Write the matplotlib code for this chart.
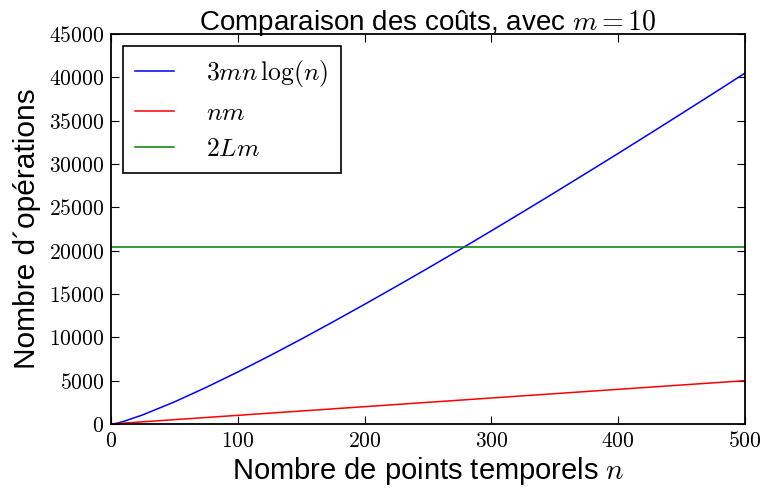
import matplotlib
matplotlib.use('Agg')
import matplotlib.pyplot as plt
from matplotlib.ticker import FuncFormatter

plt.rcParams['font.family'] = ['Liberation Sans', 'DejaVu Sans']
plt.rcParams['mathtext.fontset'] = 'cm'

# Number of time points n
n_vals = [1, 5, 10, 25, 50, 75, 100, 125, 150, 175, 200, 225, 250, 275, 300,
          325, 350, 375, 400, 425, 450, 475, 500]
# 3 m n log(n), m = 10
cost_fft = [0, 105, 300, 1050, 2550, 4220, 6000, 7860, 9790, 11780, 13810,
            15880, 17980, 20120, 22290, 24490, 26710, 28960, 31220, 33510,
            35820, 38140, 40490]
# n m
n_lin = [1, 500]
cost_lin = [10, 5000]
# 2 L m
n_const = [1, 500]
cost_const = [20480, 20480]

fig = plt.figure(figsize=(7.62, 4.94), dpi=100)
ax = fig.add_axes([111 / 762, 1 - 424 / 494, 634 / 762, 390 / 494])

ax.plot(n_vals, cost_fft, color='blue', lw=1.1, label=r'$3mn\,\log(n)$')
ax.plot(n_lin, cost_lin, color='red', lw=1.1, label=r'$nm$')
ax.plot(n_const, cost_const, color='green', lw=1.1, label=r'$2Lm$')

ax.set_xlim(0, 500)
ax.set_ylim(0, 45000)
ax.set_xticks(range(0, 501, 100))
ax.set_yticks(range(0, 45001, 5000))
ax.xaxis.set_major_formatter(FuncFormatter(lambda v, p: f'${v:.0f}$'))
ax.yaxis.set_major_formatter(FuncFormatter(lambda v, p: f'${v:.0f}$'))
ax.tick_params(direction='in', top=True, right=True, length=6, width=0.8,
               labelsize=15.5, pad=5)
for s in ax.spines.values():
    s.set_linewidth(1.3)

ax.set_title(r'Comparaison des coûts, avec $m = 10$', fontsize=20, pad=3)
ax.set_xlabel(r'Nombre de points temporels $n$', fontsize=21, labelpad=2)
ax.set_ylabel('Nombre d´opérations', fontsize=21.5, labelpad=6)

leg = ax.legend(loc='upper left', fontsize=18.5, fancybox=False,
                edgecolor='black', framealpha=1, handlelength=1.5,
                borderpad=0.5, labelspacing=0.45, handletextpad=1.25,
                borderaxespad=0.45)
leg.get_frame().set_linewidth(1.2)

fig.savefig('out.png', dpi=100)
